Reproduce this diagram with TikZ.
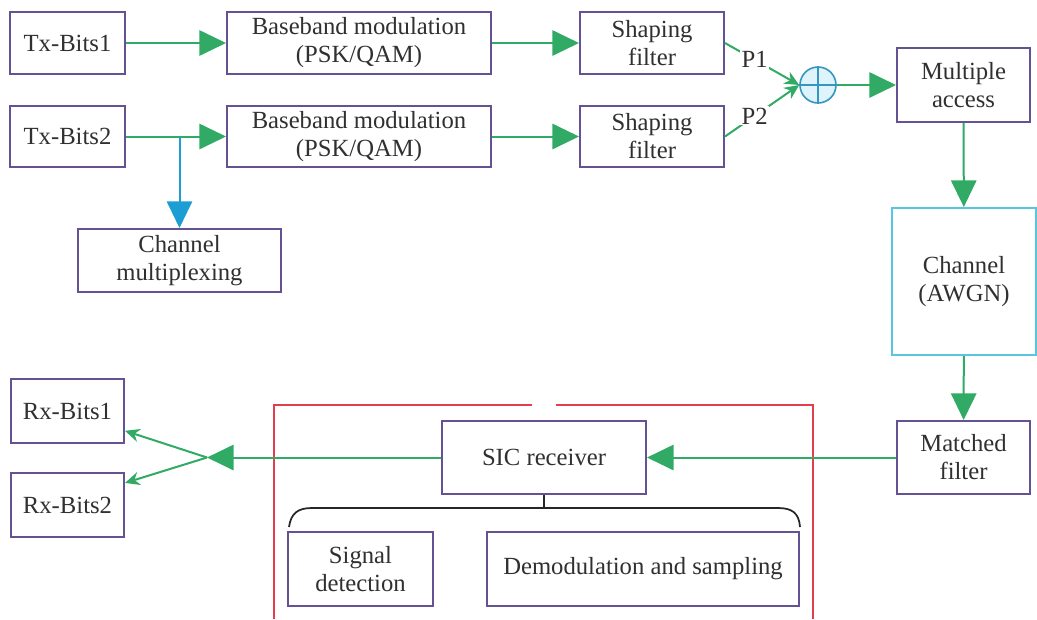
\documentclass[tikz,border=0pt]{standalone}
\usepackage{fontspec}
\setmainfont{Liberation Serif}
\usetikzlibrary{arrows.meta}

\definecolor{boxline}{RGB}{100,82,148}
\definecolor{flowgreen}{RGB}{48,170,100}
\definecolor{branchblue}{RGB}{28,158,212}
\definecolor{chancyan}{RGB}{88,198,225}
\definecolor{sicred}{RGB}{225,62,78}
\definecolor{labelgray}{RGB}{48,48,48}
\definecolor{sumfill}{RGB}{222,243,250}
\definecolor{sumline}{RGB}{52,150,195}

\tikzset{
  blk/.style={draw=boxline, line width=1.5pt, fill=white, align=center,
    text=labelgray, inner sep=2pt,
    font=\fontsize{18.5}{21}\selectfont},
  sz/.style 2 args={minimum width=#1*0.75pt, minimum height=#2*0.75pt},
  flow/.style={draw=flowgreen, line width=1.5pt,
    -{Triangle[length=20pt,width=19pt]}, flowgreen},
  thinflow/.style={draw=flowgreen, line width=1.5pt,
    -{Stealth[length=11pt,width=10pt]}, flowgreen},
  plabel/.style={fill=white, inner sep=1pt, text=labelgray,
    font=\fontsize{18.5}{21}\selectfont},
}

\begin{document}
\begin{tikzpicture}[x=0.75pt, y=-0.75pt]
\useasboundingbox (0,0) rectangle (1037,619);

% transmitter chain
\node[blk, sz={115}{62}] (tx1) at (67.5,43) {Tx-Bits1};
\node[blk, sz={264}{62}] (bb1) at (359,43) {Baseband modulation\\(PSK/QAM)};
\node[blk, sz={144}{62}] (sf1) at (652,43) {Shaping\\filter};
\node[blk, sz={115}{61}] (tx2) at (67.5,136.5) {Tx-Bits2};
\node[blk, sz={264}{61}] (bb2) at (359,136.5) {Baseband modulation\\(PSK/QAM)};
\node[blk, sz={144}{61}] (sf2) at (652,136.5) {Shaping\\filter};
\node[blk, sz={203}{63}] (mux) at (179.5,260.5) {Channel\\multiplexing};

% superposition
\node[circle, draw=sumline, fill=sumfill, line width=1.2pt,
      minimum size=36*0.75pt, inner sep=0pt] (sum) at (818,85) {};
\draw[sumline, line width=1.2pt] (sum.north) -- (sum.south) (sum.west) -- (sum.east);

% channel side
\node[blk, sz={133}{74}] (ma) at (963.5,85) {Multiple\\access};
\node[blk, draw=chancyan, sz={144}{147}] (awgn) at (964,281.5) {Channel\\(AWGN)};
\node[blk, sz={133}{73}] (mf) at (963.5,457.5) {Matched\\filter};

% receiver
\draw[sicred, line width=1.3pt] (274,619) -- (274,405) -- (532,405);
\draw[sicred, line width=1.3pt] (556,405) -- (813,405) -- (813,619);
\node[blk, sz={204}{73}] (sic) at (544,457.5) {SIC receiver};
\node[blk, sz={145}{74}] (sd) at (360.5,569) {Signal\\detection};
\node[blk, sz={312}{74}] (dm) at (643,569) {Demodulation and sampling};
\coordinate (brk) at (544,508);
\draw[black!85, line width=1.3pt]
  (289,527) .. controls (291,513) and (298,508) .. (312,508)
  -- (778,508) .. controls (792,508) and (799,513) .. (800,527);
\draw[black!85, line width=1.3pt] (sic.south) -- (brk);

\node[blk, sz={113}{64}] (rx1) at (67.5,411) {Rx-Bits1};
\node[blk, sz={113}{64}] (rx2) at (67.5,505) {Rx-Bits2};
\coordinate (split) at (207,457.5);
\coordinate (br) at (tx2.east -| mux.north);

% connectors
\draw[flow] (tx1) -- (bb1);
\draw[flow] (bb1) -- (sf1);
\draw[flow] (tx2) -- (bb2);
\draw[flow] (bb2) -- (sf2);
\draw[branchblue, line width=1.5pt, -{Triangle[length=20pt,width=19pt]}] (br) -- (mux.north);
\draw[thinflow] (sf1.east) -- node[plabel, pos=0.4] {P1} (sum.west);
\draw[thinflow] (sf2.east) -- node[plabel, pos=0.4] {P2} (sum.west);
\draw[flow] (sum.east) -- (ma.west);
\draw[flow] (ma) -- (awgn);
\draw[flow] (awgn) -- (mf);
\draw[flow] (mf) -- (sic);
\draw[flow] (sic) -- (split);
\draw[thinflow] (split) -- (rx1.-19);
\draw[thinflow] (split) -- (rx2.21);
\end{tikzpicture}
\end{document}
